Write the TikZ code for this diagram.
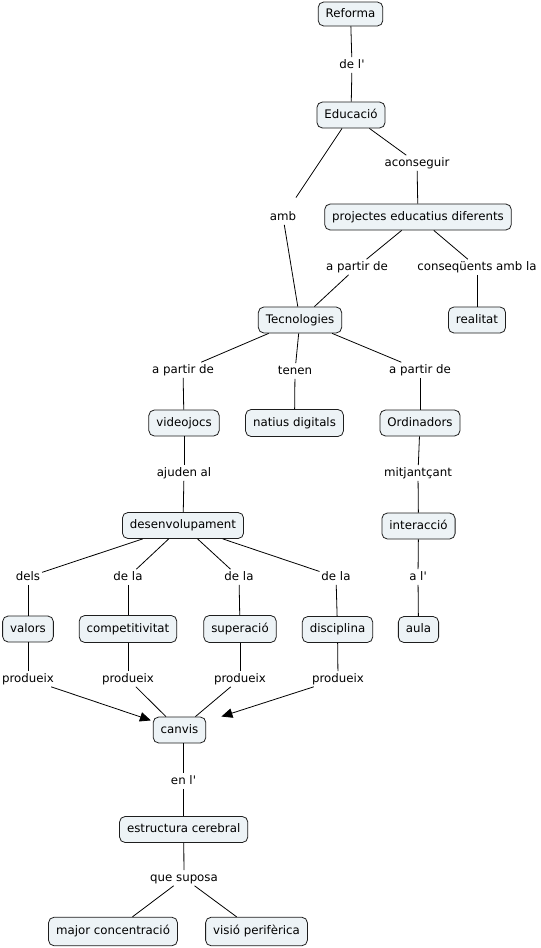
\documentclass[tikz,border=0pt]{standalone}
\usepackage{fontspec}
\setmainfont{DejaVu Sans}[Ligatures=TeXOff]
\usetikzlibrary{arrows.meta}
\definecolor{cfill}{RGB}{237,243,246}
\definecolor{cborder}{RGB}{30,30,30}
\newcommand\cmfont{\fontsize{11.8bp}{14bp}\selectfont}
\begin{document}
\begin{tikzpicture}[x=1bp,y=-1bp,
  concept/.style={draw=cborder, fill=cfill, rounded corners=5.5bp, line width=0.8bp,
    inner xsep=7.5bp, inner ysep=0bp, minimum height=26bp,
    text height=9bp, text depth=2.6bp, font=\cmfont, outer sep=0.4bp},
  lab/.style={inner xsep=2bp, inner ysep=2bp, text height=9bp, text depth=2.6bp,
    font=\cmfont, outer sep=0bp},
  link/.style={draw=black, line width=0.8bp},
  arr/.style={link, -{Triangle[length=11bp,width=9.5bp]}}
]
\useasboundingbox[fill=white] (0,0) rectangle (541,948);

% concepts
\node[concept, minimum height=24bp] (ref) at (350.5,14) {Reforma};
\node[concept] (edu) at (351,115) {Educació};
\node[concept] (proj) at (418,217) {projectes educatius diferents};
\node[concept] (real) at (477,320) {realitat};
\node[concept] (tec) at (300,320) {Tecnologies};
\node[concept, minimum height=27bp] (nat) at (294.5,423) {natius digitals};
\node[concept] (vid) at (184,423) {videojocs};
\node[concept] (ord) at (420,423) {Ordinadors};
\node[concept] (des) at (183,525.5) {desenvolupament};
\node[concept] (inter) at (418.5,526) {interacció\ };
\node[concept] (val) at (28,629) {valors};
\node[concept, minimum height=27bp] (comp) at (128,629) {competitivitat};
\node[concept, minimum height=27bp] (sup) at (240,629) {superació};
\node[concept] (dis) at (337.5,629.5) {disciplina};
\node[concept] (aula) at (418.5,629.5) {aula};
\node[concept] (canvis) at (179.5,730) {canvis};
\node[concept] (estr) at (183.7,829.5) {estructura cerebral};
\node[concept, minimum height=28.5bp] (major) at (113,931.5) {major concentració};
\node[concept, minimum height=28.5bp] (visio) at (256.5,931.5) {visió perifèrica};

% link labels
\node[lab] (del) at (352,65) {de l'};
\node[lab] (acon) at (417,163) {aconseguir};
\node[lab] (amb) at (283,217) {amb};
\node[lab] (apd1) at (357,267) {a partir de};
\node[lab] (cons) at (477,267) {conseqüents amb la};
\node[lab] (apd2) at (183,370) {a partir de};
\node[lab] (tenen) at (295,371) {tenen};
\node[lab] (apd3) at (420,370) {a partir de};
\node[lab] (ajud) at (184,473) {ajuden al};
\node[lab] (mitj) at (418,473) {mitjantçant};
\node[lab] (dels) at (28,577) {dels};
\node[lab] (dela1) at (128,577) {de la};
\node[lab] (dela2) at (239,577) {de la};
\node[lab] (dela3) at (336,577) {de la};
\node[lab] (al) at (418,577) {a l'};
\node[lab] (prod1) at (28,679) {produeix};
\node[lab] (prod2) at (128,679) {produeix};
\node[lab] (prod3) at (240,679) {produeix};
\node[lab] (prod4) at (338,679) {produeix};
\node[lab] (enl) at (183.5,781) {en l'};
\node[lab] (que) at (184,878) {que suposa};

% connectors
\draw[link] (ref) -- (del);
\draw[link] (del) -- (edu);
\draw[link, shorten >=14bp] (edu) -- (amb);
\draw[link] (amb) -- (tec);
\draw[link] (edu) -- (acon);
\draw[link] (acon) -- (proj);
\draw[link] (proj) -- (apd1);
\draw[link] (apd1) -- (tec);
\draw[link] (proj) -- (cons);
\draw[link] (cons) -- (real);
\draw[link] (tec) -- (apd2);
\draw[link] (apd2) -- (vid);
\draw[link] (tec) -- (tenen);
\draw[link] (tenen) -- (nat);
\draw[link] (tec) -- (apd3);
\draw[link] (apd3) -- (ord);
\draw[link] (vid) -- (ajud);
\draw[link] (ajud) -- (des);
\draw[link] (ord) -- (mitj);
\draw[link] (mitj) -- (inter);
\draw[link] (inter) -- (al);
\draw[link] (al) -- (aula);
\draw[link] (des) -- (dels);
\draw[link] (dels) -- (val);
\draw[link] (des) -- (dela1);
\draw[link] (dela1) -- (comp);
\draw[link] (des) -- (dela2);
\draw[link] (dela2) -- (sup);
\draw[link] (des) -- (dela3);
\draw[link] (dela3) -- (dis);
\draw[link] (val) -- (prod1);
\draw[link] (comp) -- (prod2);
\draw[link] (sup) -- (prod3);
\draw[link] (dis) -- (prod4);
\draw[arr, shorten >=2bp] (prod1) -- (canvis);
\draw[link] (prod2) -- (canvis);
\draw[link] (prod3) -- (canvis);
\draw[arr, shorten >=16bp] (prod4) -- (canvis);
\draw[link] (enl |- canvis.south) -- (enl);
\draw[link] (enl) -- (enl |- estr.north);
\draw[link] (estr) -- (que);
\draw[link] (que) -- (major);
\draw[link] (que) -- (visio);
\end{tikzpicture}
\end{document}
